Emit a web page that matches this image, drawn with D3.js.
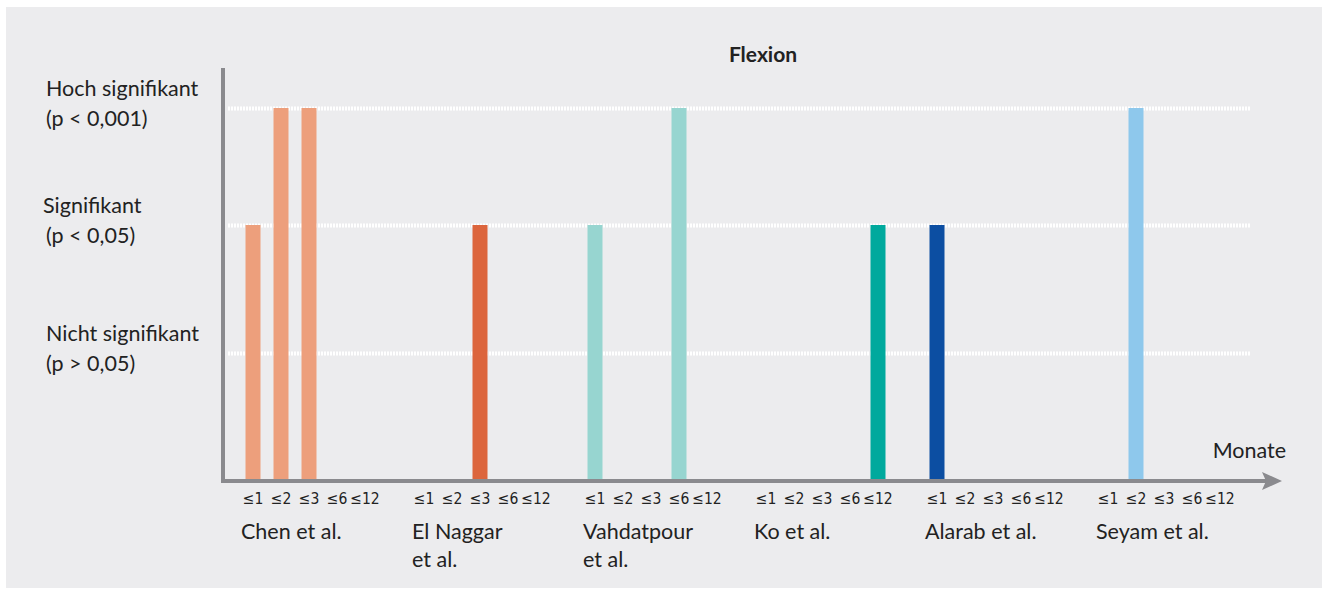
<!DOCTYPE html>
<html>
<head>
<meta charset="utf-8">
<script src="https://cdn.jsdelivr.net/npm/d3@7"></script>
<style>
  body { margin: 0; background: #fff; }
  svg text { font-family: Lato, "Open Sans", sans-serif; fill: #222; }
  svg text.tick { font-family: "DejaVu Sans Condensed", "DejaVu Sans", sans-serif; }
</style>
</head>
<body>
<svg id="chart" width="1328" height="594"></svg>
<script>
// Studies, month slots and significance levels
var studies = ['Chen et al.', 'El Naggar|et al.', 'Vahdatpour|et al.', 'Ko et al.', 'Alarab et al.', 'Seyam et al.'];
var months = ['≤1', '≤2', '≤3', '≤6', '≤12'];
var levels = ['Nicht signifikant|(p > 0,05)', 'Signifikant|(p < 0,05)', 'Hoch signifikant|(p < 0,001)'];
var studyColors = ['#ed9f7c', '#dc653d', '#97d5d0', '#00a99d', '#0c4ea2', '#8ec8ec'];

// one entry per bar: study index, month, level (1 = nicht, 2 = signifikant, 3 = hoch)
var bars = [
    { study: 0, month: '≤1', level: 2 },
    { study: 0, month: '≤2', level: 3 },
    { study: 0, month: '≤3', level: 3 },
    { study: 1, month: '≤3', level: 2 },
    { study: 2, month: '≤1', level: 2 },
    { study: 2, month: '≤6', level: 3 },
    { study: 3, month: '≤12', level: 2 },
    { study: 4, month: '≤1', level: 2 },
    { study: 5, month: '≤2', level: 3 }
];

var svg = d3.select('#chart');

// background panel
svg.append('rect')
    .attr('x', 6).attr('y', 7)
    .attr('width', 1316).attr('height', 581)
    .attr('fill', '#ececee');

var axisX = 223, baseY = 481;

var xStudy = d3.scalePoint()
    .domain(d3.range(studies.length))
    .range([241, 1096]);

var xMonth = d3.scalePoint()
    .domain(months)
    .range([12, 124]);

// level -> y, piecewise so the gaps match the figure
var y = d3.scaleLinear()
    .domain([0, 1, 2, 3])
    .range([baseY, 353, 225, 108]);

// dotted gridlines
svg.selectAll('.grid')
    .data([1, 2, 3])
    .enter()
    .append('line')
    .attr('class', 'grid')
    .attr('x1', 228).attr('x2', 1250)
    .attr('y1', function(d) { return y(d) + 0.5; })
    .attr('y2', function(d) { return y(d) + 0.5; })
    .attr('stroke', '#ffffff')
    .attr('stroke-width', 4)
    .attr('stroke-dasharray', '2,1');

// level labels on the left
levels.forEach(function(lab, i) {
    var parts = lab.split('|');
    var t = svg.append('text')
        .attr('y', y(i + 1) - 12)
        .style('font-size', '21.5px');
    t.append('tspan').attr('x', i === 1 ? 43 : 46).text(parts[0]);
    t.append('tspan').attr('x', 46).attr('dy', 30).text(parts[1]);
});

// bars
var barW = 15;
svg.selectAll('.bar')
    .data(bars)
    .enter()
    .append('rect')
    .attr('class', 'bar')
    .attr('x', function(d) { return xStudy(d.study) + xMonth(d.month) - barW / 2; })
    .attr('y', function(d) { return y(d.level); })
    .attr('width', barW)
    .attr('height', function(d) { return baseY - y(d.level); })
    .attr('fill', function(d) { return studyColors[d.study]; });

// axes
var axisColor = '#8a8a8e';
svg.append('line')
    .attr('x1', axisX).attr('x2', axisX)
    .attr('y1', 68).attr('y2', baseY + 2)
    .attr('stroke', axisColor).attr('stroke-width', 4);
svg.append('line')
    .attr('x1', axisX - 2).attr('x2', 1268)
    .attr('y1', baseY).attr('y2', baseY)
    .attr('stroke', axisColor).attr('stroke-width', 4);
svg.append('path')
    .attr('d', 'M1262,472 L1282,481 L1262,490 L1266,481 Z')
    .attr('fill', axisColor);

// month tick labels per study
studies.forEach(function(s, i) {
    months.forEach(function(m) {
        svg.append('text')
            .attr('class', 'tick')
            .attr('x', xStudy(i) + xMonth(m))
            .attr('y', 504)
            .attr('text-anchor', 'middle')
            .style('font-size', '15.5px')
            .text(m);
    });
    var parts = s.split('|');
    var t = svg.append('text')
        .attr('y', 539)
        .style('font-size', '21.5px');
    parts.forEach(function(p, j) {
        t.append('tspan').attr('x', xStudy(i)).attr('dy', j === 0 ? 0 : 28).text(p);
    });
});

svg.append('text')
    .attr('x', 1286).attr('y', 458)
    .attr('text-anchor', 'end')
    .style('font-size', '21.5px')
    .text('Monate');

svg.append('text')
    .attr('x', 763).attr('y', 62)
    .attr('text-anchor', 'middle')
    .style('font-size', '21px')
    .style('font-weight', 'bold')
    .text('Flexion');
</script>
</body>
</html>
